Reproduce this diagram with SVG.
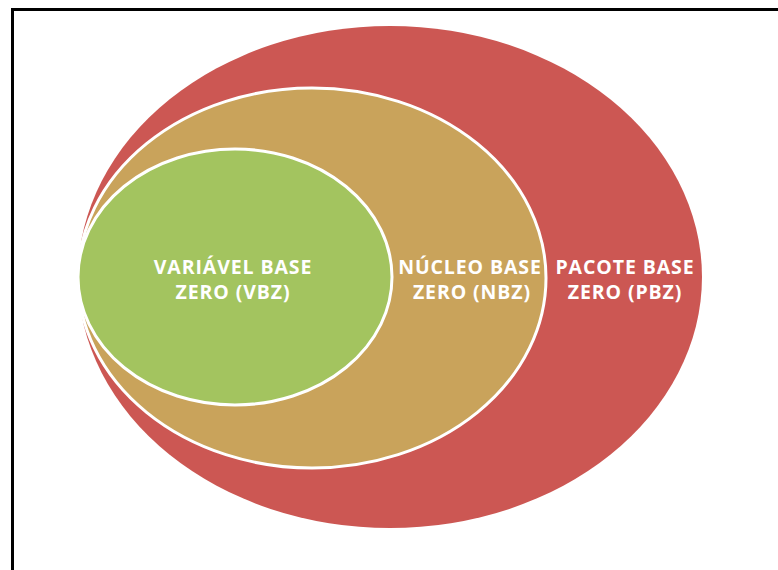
<svg xmlns="http://www.w3.org/2000/svg" width="778" height="570" viewBox="0 0 778 570">
<style>
.lbl{font-family:"Open Sans","Liberation Sans",sans-serif;font-weight:bold;font-size:19.5px;letter-spacing:0.9px;fill:#fff;text-anchor:middle}
.ring{stroke:#fff;stroke-width:3}
</style>
<rect x="0" y="0" width="778" height="570" fill="#fff"/>
<path d="M12.5 580 V9.5 H790" fill="none" stroke="#000" stroke-width="3"/>
<g id="pbz">
<ellipse cx="390" cy="277" rx="312" ry="251" fill="#CC5753"/>
<text class="lbl" x="625" y="274">PACOTE BASE</text>
<text class="lbl" x="625" y="299">ZERO (PBZ)</text>
</g>
<g id="nbz">
<ellipse class="ring" cx="312" cy="278" rx="234" ry="190" fill="#C9A35B"/>
<text class="lbl" x="470" y="274">NÚCLEO BASE</text>
<text class="lbl" x="472" y="299">ZERO (NBZ)</text>
</g>
<g id="vbz">
<ellipse class="ring" cx="235" cy="277" rx="157" ry="128" fill="#A3C45F"/>
<text class="lbl" x="233" y="274">VARIÁVEL BASE</text>
<text class="lbl" x="233" y="299">ZERO (VBZ)</text>
</g>
<g id="connectors"/>
</svg>
